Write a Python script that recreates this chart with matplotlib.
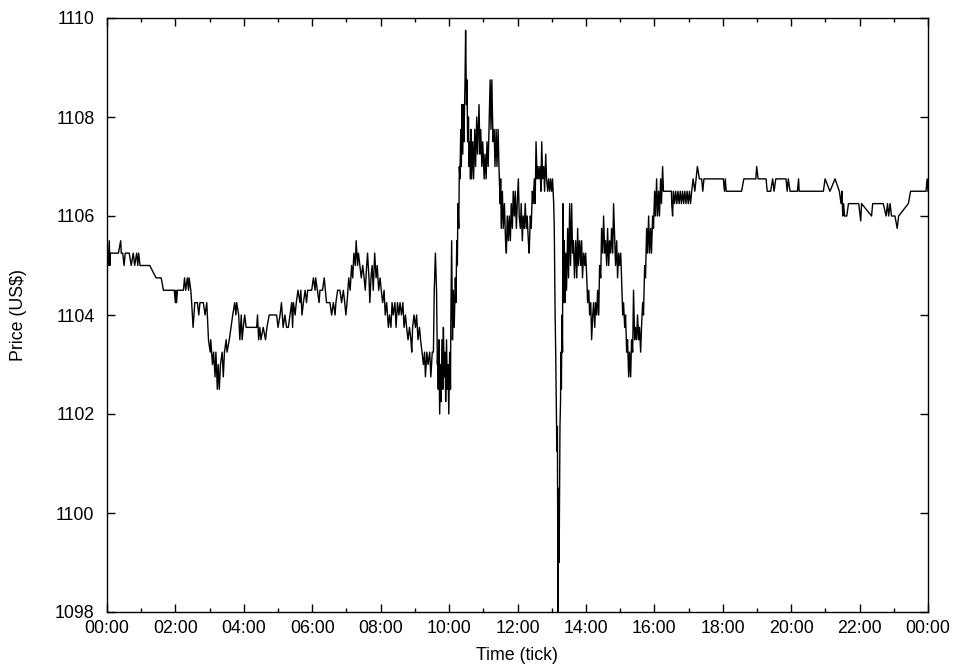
import matplotlib
matplotlib.use("Agg")
import matplotlib.pyplot as plt
from matplotlib.ticker import MultipleLocator, FuncFormatter

# tick prices: (minute of day, price in US$)
night = [(0, 1105.25), (2, 1105.0), (4, 1105.5), (5, 1105.0), (6, 1105.25), (20, 1105.25), (24, 1105.5),
         (25, 1105.25), (27.5, 1105.25), (30, 1105.0), (32, 1105.25), (39, 1105.25), (42.5, 1105.0),
         (46, 1105.25), (48.5, 1105.0), (52, 1105.25), (54, 1105.0), (55.5, 1105.25), (58, 1105.0),
         (75, 1105.0), (86, 1104.75), (95, 1104.75), (99, 1104.5), (118, 1104.5), (120, 1104.25),
         (121, 1104.5), (122, 1104.25), (123.5, 1104.5), (134, 1104.5), (136, 1104.75), (138, 1104.5),
         (141, 1104.75), (143, 1104.5), (144, 1104.75), (147, 1104.5), (148.5, 1104.25), (151, 1103.75),
         (154, 1104.25), (158.5, 1104.25), (161, 1104.0), (163, 1104.25), (169, 1104.25), (172, 1104.0),
         (175, 1104.25), (178, 1103.5), (181, 1103.25), (182, 1103.5), (185, 1103.0), (187, 1103.25),
         (189.5, 1102.75), (191, 1103.25), (193.5, 1102.5), (195, 1103.0), (197, 1102.5), (199, 1103.0),
         (202, 1103.25), (204, 1102.75), (206, 1103.25), (209, 1103.5), (210.5, 1103.25), (214.5, 1103.5),
         (217.5, 1103.75), (220.5, 1104.0), (224, 1104.25), (226, 1104.0), (227.5, 1104.25), (231, 1104.0),
         (233, 1103.5), (235.5, 1104.0), (237, 1103.5), (239, 1103.75), (241.5, 1104.0), (244, 1103.75),
         (262.5, 1103.75), (264, 1104.0), (266, 1103.5), (268, 1103.75), (270, 1103.5), (274, 1103.75),
         (278, 1103.5), (280.5, 1103.75), (284.5, 1104.0), (294.5, 1104.0)]

morning = [(297.5, 1104.0), (300, 1103.75), (303.5, 1104.0), (306, 1104.25), (309, 1103.75), (312, 1104.0),
           (315, 1103.75), (318, 1103.75), (321, 1104.0), (324, 1104.25), (325.5, 1103.75), (327, 1104.25),
           (330, 1104.0), (332, 1104.25), (335, 1104.5), (338.5, 1104.25), (340, 1104.5), (342, 1104.0),
           (344.5, 1104.25), (347.5, 1104.5), (350, 1104.25), (352, 1104.5), (359, 1104.5), (362, 1104.75),
           (365, 1104.5), (366, 1104.75), (369, 1104.5), (372, 1104.25), (373.5, 1104.5), (378, 1104.5),
           (381, 1104.75), (383, 1104.5), (385, 1104.25), (391, 1104.25), (394, 1104.0), (397, 1104.25),
           (400, 1104.0), (401.5, 1104.25), (404.5, 1104.5), (408.5, 1104.5), (411.5, 1104.25), (414.5, 1104.5),
           (417, 1104.25), (419, 1104.0), (421, 1104.25), (424, 1104.75), (426.5, 1104.5), (429, 1105.0),
           (431, 1104.75), (433, 1105.25), (435.5, 1105.0), (437, 1105.5), (439.5, 1105.0), (441, 1105.25),
           (443.5, 1105.0), (446, 1104.75), (448.5, 1105.0), (451, 1104.75), (453, 1104.5), (455.5, 1105.0),
           (457, 1105.25), (459.5, 1104.75), (461, 1104.25), (463, 1104.75), (465, 1105.0), (467, 1104.5),
           (469.5, 1105.25), (472, 1104.75), (474, 1105.0), (476.5, 1104.5), (479, 1104.75), (481, 1104.5),
           (483.5, 1104.25), (486, 1104.5), (488, 1104.0), (490.5, 1104.25), (493.5, 1103.75), (495.5, 1104.0),
           (498, 1103.75), (500, 1104.25), (502, 1104.0), (505, 1104.25), (507, 1103.75), (509.5, 1104.25),
           (512, 1104.0), (514, 1104.25), (516.5, 1104.0), (519, 1104.25), (521, 1103.75), (523.5, 1104.0),
           (525.5, 1103.75), (528, 1103.5), (530.5, 1103.75), (533, 1103.5), (534.5, 1103.25), (536, 1103.75),
           (538.5, 1104.0), (541, 1103.75), (543, 1104.0), (545.5, 1103.5), (548, 1103.75), (550, 1103.5),
           (552.5, 1103.25), (555, 1103.0), (557, 1103.25), (558.5, 1102.75), (561, 1103.25), (563, 1103.0),
           (566, 1103.25), (568, 1102.75), (570.5, 1103.25), (572.5, 1103.25), (574, 1104.5), (576, 1105.25),
           (578, 1104.5), (579.5, 1103.0)]

rally = [(580, 1103.25), (581, 1102.5), (582, 1103.5), (583.5, 1102.0), (585, 1103.0), (586, 1102.25),
         (587.5, 1103.5), (589, 1102.5), (590, 1103.75), (591.5, 1102.75), (593, 1103.25), (594, 1102.25),
         (595.5, 1103.5), (597, 1102.5), (598, 1103.0), (599.5, 1102.0), (601, 1103.25), (602.5, 1102.5),
         (603, 1103.75), (604.5, 1105.5), (606, 1103.5), (607.5, 1104.5), (609, 1103.75), (611, 1104.75),
         (612, 1104.25), (613.5, 1105.5), (614.5, 1105.0), (615.5, 1106.25), (617, 1105.75), (618, 1107.0),
         (619, 1106.75), (620.5, 1107.75), (621.5, 1107.0), (622.5, 1108.25), (624, 1107.25), (625, 1108.25),
         (626, 1107.5), (628, 1108.75), (629, 1109.75), (630.5, 1108.25), (631.5, 1108.75), (632.5, 1107.5),
         (634, 1108.0), (635, 1107.0), (636.5, 1107.5), (637.5, 1106.75), (638.5, 1107.75), (639.5, 1106.75),
         (641.5, 1107.5), (643, 1106.75), (645, 1107.75), (646.5, 1107.0), (648.5, 1108.0), (650, 1107.25),
         (652.5, 1108.25), (654, 1107.25), (655.5, 1107.75), (657.5, 1107.0), (659, 1107.5), (661.5, 1106.75),
         (663, 1107.25), (665, 1106.75), (666.5, 1107.5), (668.5, 1107.0), (670, 1107.75), (672, 1108.75),
         (673.5, 1107.75), (675, 1108.75), (677, 1107.5), (679, 1107.75), (680.5, 1107.0), (682.5, 1107.75),
         (684, 1107.0), (686, 1107.75), (687.5, 1107.0), (689.5, 1106.25), (690.5, 1106.75), (691.5, 1105.75),
         (693.5, 1106.5), (695, 1105.75), (697, 1106.25), (699, 1105.5), (700.5, 1105.25), (702, 1106.0),
         (704, 1105.5), (705.5, 1106.0), (707.5, 1105.5), (709, 1106.25), (711, 1105.75), (712.5, 1106.5),
         (714.5, 1106.0), (716, 1106.5), (718, 1105.75), (719.5, 1106.25), (721.5, 1106.75), (723, 1106.0),
         (725, 1105.75), (726.5, 1106.25), (728.5, 1105.5), (730, 1106.0), (732, 1105.75), (733.5, 1106.25),
         (735.5, 1105.75), (737, 1106.0), (739, 1105.5), (740.5, 1105.25), (742.5, 1106.0), (744, 1105.75),
         (746, 1106.5), (747.5, 1106.25), (749.5, 1106.75), (751, 1106.25), (752.5, 1107.5), (754.5, 1106.75),
         (756, 1107.0), (757.5, 1106.75), (759.5, 1107.0), (761, 1106.5), (762.5, 1107.5), (764, 1106.75),
         (766, 1107.0), (767.5, 1106.5), (769.5, 1107.25), (771, 1106.75), (773, 1106.5), (774.5, 1106.75),
         (776.5, 1106.5), (778, 1106.75), (780, 1106.5), (781.5, 1106.75), (783.5, 1106.25)]

crash = [(784.5, 1105.75), (786, 1104.0), (787, 1103.25), (789, 1101.25), (790, 1101.75), (791, 1097.5),
         (792, 1100.5), (793, 1099.0), (794.5, 1101.75), (795.5, 1102.25), (796, 1103.25), (797, 1102.5),
         (798, 1104.0), (799, 1103.25), (799.5, 1106.25), (801, 1104.25), (802, 1105.5), (803, 1104.25),
         (804.5, 1105.25), (806, 1104.5), (808, 1105.75), (809.5, 1104.75), (811.5, 1106.25), (813, 1105.0),
         (815, 1106.25), (816.5, 1105.25), (818, 1105.5), (820, 1104.75), (822, 1105.5), (824, 1104.75),
         (825.5, 1105.75), (827, 1105.0), (829, 1105.5), (831, 1105.0), (832.5, 1105.5), (834, 1104.75),
         (836, 1105.25), (838, 1105.0), (839.5, 1105.25), (841.5, 1104.75), (843, 1104.25), (845, 1104.5),
         (846.5, 1104.0), (848.5, 1104.25), (850, 1103.5), (852, 1104.0), (853.5, 1104.25), (855.5, 1103.75),
         (857, 1104.25), (859, 1104.0), (860.5, 1104.5), (862.5, 1104.0), (864, 1105.0), (866, 1104.75),
         (867.5, 1105.75), (869.5, 1105.25), (871, 1106.0), (873, 1105.25), (874.5, 1105.5), (876.5, 1105.0),
         (878, 1105.75), (880, 1105.0), (881.5, 1105.5), (883.5, 1105.25), (885, 1105.75), (887, 1105.25),
         (888.5, 1106.25), (890.5, 1105.5), (892, 1105.0), (894, 1105.5), (895.5, 1104.75), (897.5, 1105.25),
         (899, 1105.0), (901, 1105.25), (902.5, 1104.75), (904.5, 1104.0), (906, 1104.25), (908, 1103.75),
         (909.5, 1104.0), (911.5, 1103.25), (913, 1103.5), (915, 1102.75), (916.5, 1103.25), (918.5, 1102.75),
         (920, 1103.5), (922, 1103.25), (923.5, 1104.5), (925.5, 1103.5), (927, 1103.75), (929, 1103.5),
         (930.5, 1104.0), (932.5, 1103.5), (934, 1103.75), (936, 1103.25), (937.5, 1103.75), (939.5, 1104.25),
         (941, 1104.0), (943, 1105.0), (944.5, 1104.75), (946.5, 1105.75), (948, 1105.25), (950, 1106.0),
         (951.5, 1105.25), (953.5, 1105.75), (955, 1105.25), (957, 1106.0), (958.5, 1105.75), (960.5, 1106.5),
         (962, 1106.0), (964, 1106.75), (965.5, 1106.0), (967.5, 1106.5), (969, 1106.0), (971, 1106.75),
         (972.5, 1106.25), (974.5, 1107.0), (976, 1106.5)]

evening = [(990, 1106.5), (990.5, 1106.25), (992, 1106.0), (993.5, 1106.5), (995.5, 1106.25), (997.5, 1106.5),
           (999.5, 1106.25), (1001.5, 1106.5), (1003.5, 1106.25), (1005.5, 1106.5), (1007.5, 1106.25),
           (1009.5, 1106.5), (1011.5, 1106.25), (1013.5, 1106.5), (1015.5, 1106.25), (1017.5, 1106.5),
           (1019.5, 1106.25), (1021.5, 1106.5), (1023.5, 1106.25), (1025.5, 1106.5), (1028, 1106.75),
           (1031, 1106.5), (1035.5, 1107.0), (1039, 1106.75), (1043, 1106.75), (1045, 1106.5), (1047, 1106.75),
           (1081, 1106.75), (1083, 1106.5), (1084.5, 1106.75), (1086, 1106.5), (1113, 1106.5), (1117, 1106.75),
           (1138, 1106.75), (1139.5, 1107.0), (1142, 1106.75), (1156, 1106.75), (1158, 1106.5), (1164, 1106.5),
           (1167.5, 1106.75), (1170, 1106.5), (1173, 1106.75), (1191, 1106.75), (1193, 1106.5), (1195, 1106.75),
           (1198, 1106.5), (1211, 1106.5), (1213, 1106.75), (1214, 1106.5), (1256.5, 1106.5), (1259.5, 1106.75),
           (1268, 1106.5), (1277, 1106.75), (1284.5, 1106.5), (1287.5, 1106.25), (1289, 1106.5), (1290.5, 1106.0),
           (1292, 1106.25), (1293.5, 1106.0), (1297.5, 1106.0), (1300.5, 1106.25), (1318.5, 1106.25),
           (1322, 1105.9), (1323.5, 1106.25), (1341, 1106.0), (1343, 1106.25), (1361.5, 1106.25), (1366.5, 1106.0),
           (1369, 1106.25), (1371, 1106.0), (1373.5, 1106.25), (1376, 1106.0), (1382, 1106.0), (1386, 1105.75),
           (1388.5, 1106.0), (1405.5, 1106.25), (1409.5, 1106.5), (1436.5, 1106.5), (1438.5, 1106.75),
           (1440, 1106.5)]

ticks = night + morning + rally + crash + evening
minutes = [t for t, p in ticks]
price = [p for t, p in ticks]

plt.rcParams['font.family'] = ['Liberation Sans', 'DejaVu Sans']
fig = plt.figure(figsize=(9.54, 6.66), dpi=100)
ax = fig.add_axes([107/954, 54/666, 821/954, 594/666])

ax.plot(minutes, price, color='black', linewidth=1.0)

ax.set_xlim(0, 1440)
ax.set_ylim(1098, 1110)
ax.xaxis.set_major_locator(MultipleLocator(120))
ax.xaxis.set_minor_locator(MultipleLocator(60))
ax.yaxis.set_major_locator(MultipleLocator(2))
ax.xaxis.set_major_formatter(FuncFormatter(lambda v, pos: "%02d:00" % ((int(round(v)) // 60) % 24)))

ax.tick_params(which='both', direction='in', top=True, right=True, labelsize=12.8, color='black')
ax.tick_params(which='major', length=6, width=1)
ax.tick_params(which='minor', length=3, width=1)
ax.tick_params(axis='x', pad=6)
ax.tick_params(axis='y', pad=9)
for s in ax.spines.values():
    s.set_linewidth(1.0)

ax.set_xlabel("Time (tick)", fontsize=12.8)
ax.set_ylabel("Price (US$)", fontsize=12.8)
ax.xaxis.set_label_coords(0.5, -0.059)
ax.yaxis.set_label_coords(-0.097, 0.5)

fig.savefig("out.png", dpi=100)
